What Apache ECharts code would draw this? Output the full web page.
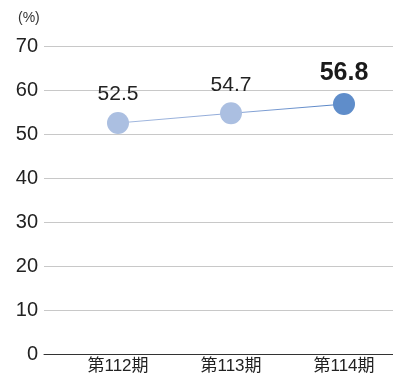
<!DOCTYPE html>
<html>
<head>
<meta charset="utf-8">
<script src="https://cdn.jsdelivr.net/npm/echarts@6/dist/echarts.min.js"></script>
<style>
  html, body { margin: 0; padding: 0; background: #fff; }
  #chart { width: 393px; height: 375px; }
</style>
</head>
<body>
<div id="chart"></div>
<script>
// Period labels and ratio values (%)
const periods = ['第112期', '第113期', '第114期'];
const ratios = [52.5, 54.7, 56.8];
const yTicks = [0, 10, 20, 30, 40, 50, 60, 70];

const FONT = '"Liberation Sans", Arial, "Noto Sans CJK JP", sans-serif';
const LIGHT = '#abbfe1';
const DARK = '#5f8dca';

const pointStyles = ratios.map((v, i) => {
  const last = i === ratios.length - 1;
  return {
    value: v,
    itemStyle: { color: last ? DARK : LIGHT },
    label: last
      ? { fontSize: 25, fontWeight: 'bold', color: '#1a1a1a' }
      : { fontSize: 21, color: '#222' }
  };
});

const chart = echarts.init(document.getElementById('chart'), null, { renderer: 'canvas' });
chart.setOption({
  animation: false,
  backgroundColor: '#fff',
  graphic: [{
    type: 'text',
    left: 18,
    top: 11,
    style: { text: '(%)', font: '14px ' + FONT, fill: '#333' }
  }],
  grid: [
    // value scale and gridlines
    { left: 44, right: 0, top: 46, bottom: 21 },
    // plotting area spanning first to last period
    { left: 118, right: 49, top: 46, bottom: 21 }
  ],
  xAxis: [
    {
      gridIndex: 0, type: 'category', data: periods,
      axisLine: { show: true, lineStyle: { color: '#333', width: 1 } },
      axisTick: { show: false }, axisLabel: { show: false }
    },
    {
      gridIndex: 1, type: 'category', data: periods, boundaryGap: false,
      axisLine: { show: false }, axisTick: { show: false },
      axisLabel: { fontSize: 17, color: '#222', fontFamily: FONT, margin: 4 }
    }
  ],
  yAxis: [
    {
      gridIndex: 0, type: 'value', min: 0, max: 70, interval: 10,
      axisLine: { show: false }, axisTick: { show: false },
      axisLabel: {
        fontSize: 20, color: '#222', fontFamily: FONT, margin: 6,
        formatter: v => (yTicks.includes(v) ? String(v) : '')
      },
      splitLine: { lineStyle: { color: '#c8c8c8', width: 1 } }
    },
    {
      gridIndex: 1, type: 'value', min: 0, max: 70, interval: 10,
      show: false, splitLine: { show: false }
    }
  ],
  series: [{
    type: 'line',
    xAxisIndex: 1, yAxisIndex: 1,
    data: pointStyles,
    symbol: 'circle',
    symbolSize: 22,
    lineStyle: {
      width: 1,
      color: new echarts.graphic.LinearGradient(0, 0, 1, 0, [
        { offset: 0, color: '#a3b9df' },
        { offset: 0.5, color: '#8fa9d8' },
        { offset: 1, color: '#4f80c4' }
      ])
    },
    label: {
      show: true, position: 'top', distance: 7,
      fontFamily: FONT,
      formatter: p => p.value.toFixed(1)
    }
  }]
});
</script>
</body>
</html>
